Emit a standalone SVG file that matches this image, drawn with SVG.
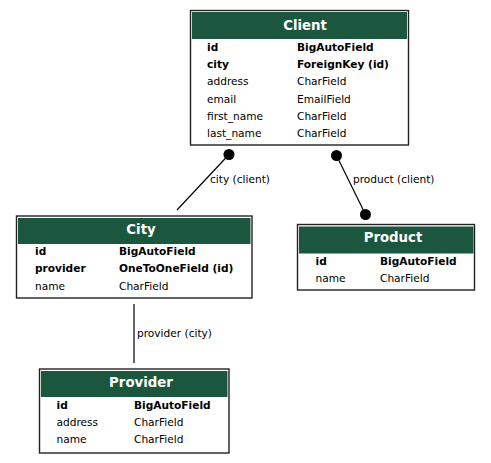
<svg xmlns="http://www.w3.org/2000/svg" width="491" height="463" viewBox="0 0 491 463">
<style>
.box{fill:#fff;stroke:#222;stroke-width:1.4}
.hdr{fill:#1b563f}
.ht{font-family:"DejaVu Sans",sans-serif;font-weight:bold;font-size:13.3px;fill:#fff;text-anchor:middle}
.f{font-family:"DejaVu Sans",sans-serif;font-size:10.6px;fill:#000}
.b{font-weight:bold}
.e{stroke:#000;stroke-width:1.2;fill:none}
.dot{fill:#000}
</style>
<rect width="491" height="463" fill="#fff"/>
<g id="connectors">
<line class="e" x1="229" y1="154.5" x2="177" y2="210"/>
<circle class="dot" cx="229" cy="154.5" r="5.5"/>
<text class="f" x="210" y="183">city (client)</text>
<line class="e" x1="336.5" y1="155.5" x2="365.5" y2="214.5"/>
<circle class="dot" cx="336.5" cy="155.5" r="5.5"/>
<circle class="dot" cx="365.5" cy="214.5" r="5.5"/>
<text class="f" x="353" y="183">product (client)</text>
<line class="e" x1="134" y1="304" x2="134" y2="363"/>
<text class="f" x="137" y="337">provider (city)</text>
</g>
<g id="Client">
<rect class="box" x="190.5" y="10.5" width="218" height="134.5"/>
<rect class="hdr" x="192" y="12" width="215" height="27"/>
<text class="ht" x="305" y="30">Client</text>
<text class="f b" x="207" y="51">id</text><text class="f b" x="297" y="51">BigAutoField</text>
<text class="f b" x="207" y="68.2">city</text><text class="f b" x="297" y="68.2">ForeignKey (id)</text>
<text class="f" x="207" y="85.4">address</text><text class="f" x="297" y="85.4">CharField</text>
<text class="f" x="207" y="102.6">email</text><text class="f" x="297" y="102.6">EmailField</text>
<text class="f" x="207" y="119.8">first_name</text><text class="f" x="297" y="119.8">CharField</text>
<text class="f" x="207" y="137">last_name</text><text class="f" x="297" y="137">CharField</text>
</g>
<g id="City">
<rect class="box" x="16.5" y="216" width="235.5" height="82"/>
<rect class="hdr" x="18" y="218" width="232.5" height="26"/>
<text class="ht" x="141" y="234">City</text>
<text class="f b" x="35" y="255">id</text><text class="f b" x="119" y="255">BigAutoField</text>
<text class="f b" x="35" y="272.3">provider</text><text class="f b" x="119" y="272.3">OneToOneField (id)</text>
<text class="f" x="35" y="289.6">name</text><text class="f" x="119" y="289.6">CharField</text>
</g>
<g id="Product">
<rect class="box" x="297.5" y="224.5" width="177" height="65.5"/>
<rect class="hdr" x="299" y="226.5" width="174.5" height="27"/>
<text class="ht" x="393" y="241.7">Product</text>
<text class="f b" x="315.5" y="264.5">id</text><text class="f b" x="380" y="264.5">BigAutoField</text>
<text class="f" x="315.5" y="281.7">name</text><text class="f" x="380" y="281.7">CharField</text>
</g>
<g id="Provider">
<rect class="box" x="39.5" y="369" width="189.5" height="84"/>
<rect class="hdr" x="41" y="371" width="186.5" height="26"/>
<text class="ht" x="141" y="387.3">Provider</text>
<text class="f b" x="56.5" y="409.3">id</text><text class="f b" x="134" y="409.3">BigAutoField</text>
<text class="f" x="56.5" y="426.3">address</text><text class="f" x="134" y="426.3">CharField</text>
<text class="f" x="56.5" y="443.3">name</text><text class="f" x="134" y="443.3">CharField</text>
</g>
</svg>
